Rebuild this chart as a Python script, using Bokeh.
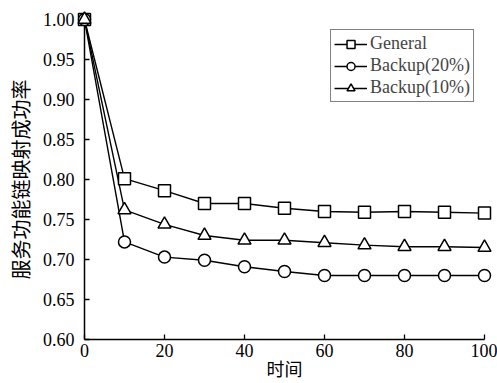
from bokeh.plotting import figure
from bokeh.embed import file_html
from bokeh.resources import INLINE
from bokeh.models import Range1d, Legend, LegendItem, FixedTicker, CustomJSTickFormatter

x_vals = [0, 10, 20, 30, 40, 50, 60, 70, 80, 90, 100]
general = [1.00, 0.801, 0.786, 0.770, 0.770, 0.764, 0.760, 0.759, 0.760, 0.759, 0.758]
backup20 = [1.00, 0.722, 0.703, 0.699, 0.691, 0.685, 0.680, 0.680, 0.680, 0.680, 0.680]
backup10 = [1.00, 0.762, 0.744, 0.730, 0.724, 0.724, 0.721, 0.718, 0.716, 0.716, 0.715]
x_ticks = [0, 20, 40, 60, 80, 100]
y_ticks = [0.60, 0.65, 0.70, 0.75, 0.80, 0.85, 0.90, 0.95, 1.00]
x_label = "时间"
y_label = "服务功能链映射成功率"

SERIF = "'Liberation Serif', 'Times New Roman', serif"
CJK = "Noto Sans CJK SC"

p = figure(width=497, height=383, output_backend="svg", toolbar_location=None,
           x_range=Range1d(0, 100), y_range=Range1d(0.6, 1.0),
           min_border_left=84, min_border_right=13, min_border_top=19, min_border_bottom=44)
p.outline_line_color = None
p.grid.visible = False
p.background_fill_color = "white"

p.xaxis.ticker = FixedTicker(ticks=x_ticks)
p.yaxis.ticker = FixedTicker(ticks=y_ticks)
p.yaxis.formatter = CustomJSTickFormatter(code="return tick.toFixed(2);")

for ax in (p.xaxis, p.yaxis):
    ax.major_tick_in = 5
    ax.major_tick_out = 0
    ax.minor_tick_line_color = None
    ax.axis_line_width = 1.5
    ax.major_tick_line_width = 1.3
    ax.axis_line_color = "black"
    ax.major_tick_line_color = "black"
    ax.major_label_text_font = SERIF
    ax.major_label_text_font_size = "18px"
    ax.major_label_text_color = "black"
    ax.axis_label_text_font = CJK
    ax.axis_label_text_font_style = "normal"
    ax.axis_label_text_color = "black"

p.xaxis.major_label_standoff = 4
p.xaxis.axis_label = x_label
p.xaxis.axis_label_text_font_size = "18px"
p.xaxis.axis_label_standoff = -5
p.yaxis.major_label_standoff = 10
p.yaxis.axis_label = y_label
p.yaxis.axis_label_text_font_size = "20px"
p.yaxis.axis_label_standoff = 5

items = []
specs = [("General", general, "square"), ("Backup(20%)", backup20, "circle"), ("Backup(10%)", backup10, "triangle")]
for name, ys, marker in specs:
    ln = p.line(x_vals, ys, line_color="black", line_width=1.4)
    sc = p.scatter(x_vals, ys, marker=marker, size=12 if marker != "triangle" else 13,
                   fill_color="white", line_color="black", line_width=1.5)
    sc.level = "overlay"
    items.append(LegendItem(label=name, renderers=[ln, sc]))

legend = Legend(items=items, location="top_right", margin=10,
                label_text_font=SERIF, label_text_font_size="18px",
                glyph_width=33, glyph_height=20, label_standoff=3, spacing=1,
                padding=3, border_line_color="black", border_line_width=1.5,
                background_fill_alpha=1.0, label_height=20)
p.add_layout(legend)

open("out.html", "w").write(file_html(p, INLINE))
